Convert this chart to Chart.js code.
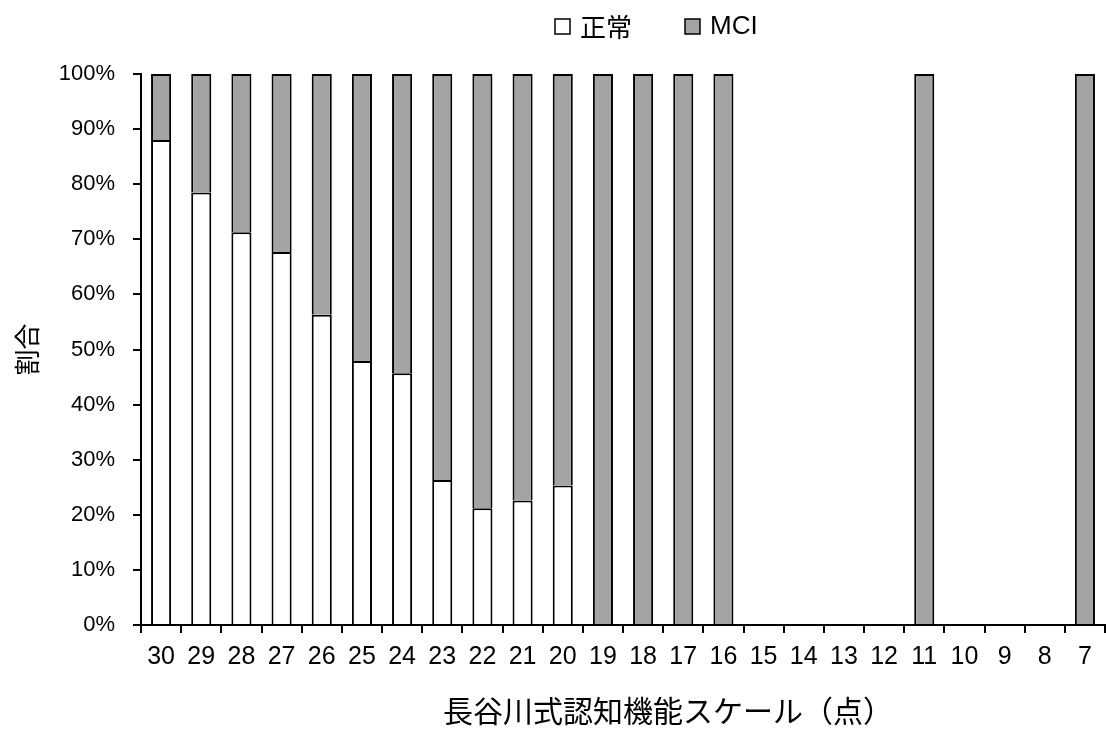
<!DOCTYPE html>
<html>
<head>
<meta charset="utf-8">
<script src="https://cdn.jsdelivr.net/npm/chart.js@4"></script>
<style>
  html, body { margin: 0; padding: 0; background: #fff; }
  #wrap { width: 1106px; height: 736px; }
</style>
</head>
<body>
<div id="wrap"><canvas id="chart" width="1106" height="736"></canvas></div>
<script>
// categories (HDS-R score) and percent per group
const scores = ['30','29','28','27','26','25','24','23','22','21','20','19','18','17','16','15','14','13','12','11','10','9','8','7'];
const normal = [88, 78.5, 71.3, 67.7, 56.3, 47.9, 45.7, 26.3, 21.2, 22.6, 25.3, 0, 0, 0, 0, 0, 0, 0, 0, 0, 0, 0, 0, 0];
const mci = [12, 21.5, 28.7, 32.3, 43.7, 52.1, 54.3, 73.7, 78.8, 77.4, 74.7, 100, 100, 100, 100, 0, 0, 0, 0, 100, 0, 0, 0, 100];
const yTicks = [0, 10, 20, 30, 40, 50, 60, 70, 80, 90, 100];
const xTitle = '長谷川式認知機能スケール（点）';

const font = "'Liberation Sans', 'Noto Sans CJK JP', sans-serif";
const jpFont = "'Noto Sans CJK JP', sans-serif";

// legend and x title drawn by hand so the placement matches the original
const extras = {
    id: 'extras',
    afterDraw(chart) {
        const ctx = chart.ctx;
        const cy = 27;
        let x = 555;
        ctx.save();
        ctx.textBaseline = 'middle';
        ctx.textAlign = 'left';
        chart.data.datasets.forEach(ds => {
            ctx.fillStyle = ds.backgroundColor;
            ctx.fillRect(x, cy - 8, 15, 15);
            ctx.strokeStyle = '#000';
            ctx.lineWidth = 1.5;
            ctx.strokeRect(x, cy - 8, 15, 15);
            x += 15 + 10;
            ctx.fillStyle = '#000';
            ctx.font = '26px ' + (ds.label === 'MCI' ? font : jpFont);
            ctx.fillText(ds.label, x, cy);
            x += ctx.measureText(ds.label).width + 53;
        });

        ctx.textAlign = 'center';
        ctx.font = '30px ' + jpFont;
        ctx.fillText(xTitle, 668, 711);
        ctx.restore();
    }
};

new Chart(document.getElementById('chart'), {
    type: 'bar',
    data: {
        labels: scores,
        datasets: [
            {
                label: '正常',
                data: normal,
                backgroundColor: '#ffffff',
                borderColor: '#000000',
                borderWidth: 2,
                barPercentage: 0.5,
                categoryPercentage: 1
            },
            {
                label: 'MCI',
                data: mci,
                backgroundColor: '#a3a3a3',
                borderColor: '#000000',
                borderWidth: 2,
                barPercentage: 0.5,
                categoryPercentage: 1
            }
        ]
    },
    options: {
        responsive: false,
        animation: false,
        layout: { padding: { left: 0, right: 1, top: 74, bottom: 0 } },
        plugins: {
            legend: { display: false },
            tooltip: { enabled: false }
        },
        scales: {
            x: {
                stacked: true,
                afterFit: axis => { axis.height = 111; },
                grid: { drawOnChartArea: false, color: '#000', tickLength: 8, lineWidth: 2 },
                border: { color: '#000', width: 2 },
                ticks: { color: '#000', font: { family: font, size: 25 }, maxRotation: 0, autoSkip: false, padding: 9 }
            },
            y: {
                stacked: true,
                min: 0,
                max: 100,
                afterFit: axis => { axis.width = 141; },
                afterBuildTicks: axis => { axis.ticks = yTicks.map(v => ({ value: v })); },
                grid: { drawOnChartArea: false, color: '#000', tickLength: 8, lineWidth: 2 },
                border: { color: '#000', width: 2 },
                ticks: {
                    color: '#000',
                    font: { family: font, size: 22 },
                    padding: 18,
                    callback: v => v + '%'
                },
                title: {
                    display: true,
                    text: '割合',
                    color: '#000',
                    font: { family: jpFont, size: 26 },
                    padding: { top: 12, bottom: 0 }
                }
            }
        }
    },
    plugins: [extras]
});
</script>
</body>
</html>
